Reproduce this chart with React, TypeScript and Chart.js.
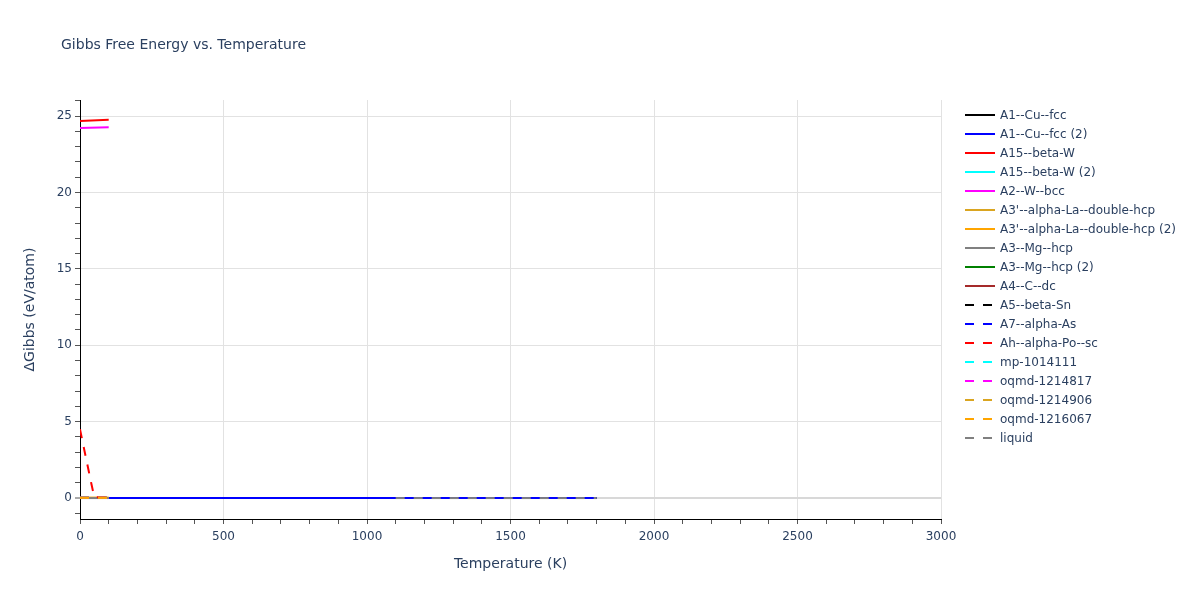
import React, { useEffect, useRef } from 'react';
import { Chart, registerables } from 'chart.js';

Chart.register(...registerables);

// series names, in drawing order (last one on top, like the original)
const labels = [
  'A1--Cu--fcc', 'A1--Cu--fcc (2)', 'A15--beta-W', 'A15--beta-W (2)', 'A2--W--bcc',
  "A3'--alpha-La--double-hcp", "A3'--alpha-La--double-hcp (2)", 'A3--Mg--hcp', 'A3--Mg--hcp (2)',
  'A4--C--dc', 'A5--beta-Sn', 'A7--alpha-As', 'Ah--alpha-Po--sc', 'mp-1014111',
  'oqmd-1214817', 'oqmd-1214906', 'oqmd-1216067', 'liquid',
];
const colors = [
  'black', 'blue', 'red', 'cyan', 'magenta', 'goldenrod', 'orange', 'grey', 'green',
  'brown', 'black', 'blue', 'red', 'cyan', 'magenta', 'goldenrod', 'orange', 'grey',
];
const dashed = [
  false, false, false, false, false, false, false, false, false,
  false, true, true, true, true, true, true, true, true,
];

// temperatures (K) and ΔG (eV/atom)
const temps: number[][] = [
  [0, 1800], [0, 1800], [0, 100], [], [0, 100],
  [0, 100], [0, 100], [0, 100], [],
  [], [0, 100], [0, 100], [0, 10, 20, 30, 40, 50, 60, 70, 80, 90, 100], [0, 100],
  [0, 100], [0, 100], [0, 100], [1100, 1800],
];
const gibbs: number[][] = [
  [0, 0], [0, 0], [24.68, 24.75], [], [24.22, 24.27],
  [0.02, 0.02], [0.02, 0.02], [0, 0], [],
  [], [0.02, 0.02], [0.02, 0.02], [4.5, 3.6, 2.7, 1.8, 0.9, 0.05, 0.05, 0.05, 0.05, 0.05, 0.05], [0.02, 0.02],
  [0.02, 0.02], [0.02, 0.02], [0.02, 0.02], [0, 0],
];

const xTicks = [0, 500, 1000, 1500, 2000, 2500, 3000];
const yTicks = [0, 5, 10, 15, 20, 25];

const FONT = '"DejaVu Sans", verdana, sans-serif';
const TEXT = '#2a3f5f';

const titlePlugin = {
  id: 'plotTitle',
  afterDraw(chart: any) {
    const ctx = chart.ctx;
    ctx.save();
    ctx.font = `14px ${FONT}`;
    ctx.fillStyle = TEXT;
    ctx.textBaseline = 'middle';
    ctx.fillText('Gibbs Free Energy vs. Temperature', 61, 45);
    ctx.restore();
  },
};

const legendPlugin = {
  id: 'sideLegend',
  afterDraw(chart: any) {
    const ctx = chart.ctx;
    ctx.save();
    ctx.font = `12px ${FONT}`;
    ctx.textBaseline = 'middle';
    chart.data.datasets.forEach((ds: any, i: number) => {
      const y = 115 + i * 19;
      ctx.strokeStyle = ds.borderColor;
      ctx.lineWidth = 2;
      ctx.setLineDash(ds.borderDash || []);
      ctx.beginPath();
      ctx.moveTo(965, y);
      ctx.lineTo(995, y);
      ctx.stroke();
      ctx.setLineDash([]);
      ctx.fillStyle = TEXT;
      ctx.fillText(ds.label, 1000, y + 1);
    });
    ctx.restore();
  },
};

export default function App() {
  const canvasRef = useRef<HTMLCanvasElement | null>(null);

  useEffect(() => {
    document.body.style.margin = '0';
    const ctx = canvasRef.current;
    if (!ctx) return;

    const n = labels.length;
    const chart = new Chart(ctx, {
      type: 'line',
      data: {
        datasets: labels.map((label, i) => ({
          label,
          data: temps[i].map((t, j) => ({ x: t, y: gibbs[i][j] })),
          borderColor: colors[i],
          backgroundColor: colors[i],
          borderWidth: 2,
          borderDash: dashed[i] ? [9, 9] : [],
          pointRadius: 0,
          fill: false,
          tension: 0,
          order: n - 1 - i,
        })),
      },
      options: {
        animation: false,
        responsive: false,
        layout: { padding: { top: 100, right: 259, left: 0, bottom: 0 } },
        plugins: { legend: { display: false }, title: { display: false }, tooltip: { enabled: false } },
        scales: {
          x: {
            type: 'linear',
            min: 0,
            max: 3000,
            afterFit: (s: any) => { s.height = 81; },
            border: { display: true, color: 'black', width: 1 },
            grid: {
              color: (c: any) => (xTicks.includes(c.tick.value) && c.tick.value !== 0 ? '#e2e2e2' : 'rgba(0,0,0,0)'),
              tickColor: '#555',
              tickLength: 5,
            },
            ticks: {
              stepSize: 100,
              autoSkip: false,
              maxRotation: 0,
              includeBounds: false,
              padding: 6,
              color: TEXT,
              font: { family: FONT, size: 12 },
              callback: (v: any) => (xTicks.includes(v) ? String(v) : ''),
            },
            title: {
              display: true,
              text: 'Temperature (K)',
              color: TEXT,
              font: { family: FONT, size: 14 },
              padding: { top: 0, bottom: 27 },
            },
          },
          y: {
            min: -1.37,
            max: 26.05,
            afterFit: (s: any) => { s.width = 80; },
            border: { display: true, color: 'black', width: 1 },
            grid: {
              color: (c: any) => {
                const v = c.tick.value;
                if (v === 0) return '#d8d8d8';
                return yTicks.includes(v) ? '#e2e2e2' : 'rgba(0,0,0,0)';
              },
              lineWidth: (c: any) => (c.tick.value === 0 ? 2 : 1),
              tickColor: '#555',
              tickWidth: 1,
              tickLength: 5,
            },
            ticks: {
              stepSize: 1,
              autoSkip: false,
              includeBounds: false,
              padding: 3,
              color: TEXT,
              font: { family: FONT, size: 12 },
              callback: (v: any) => (yTicks.includes(v) ? String(v) : ''),
            },
            title: {
              display: true,
              text: 'ΔGibbs (eV/atom)',
              color: TEXT,
              font: { family: FONT, size: 14 },
              padding: { top: 22, bottom: 0 },
            },
          },
        },
      },
      plugins: [titlePlugin, legendPlugin],
    });

    return () => {
      chart.destroy();
    };
  }, []);

  return (
    <div style={{ width: 1200, height: 600, background: 'white' }}>
      <canvas ref={canvasRef} width={1200} height={600}></canvas>
    </div>
  );
}
